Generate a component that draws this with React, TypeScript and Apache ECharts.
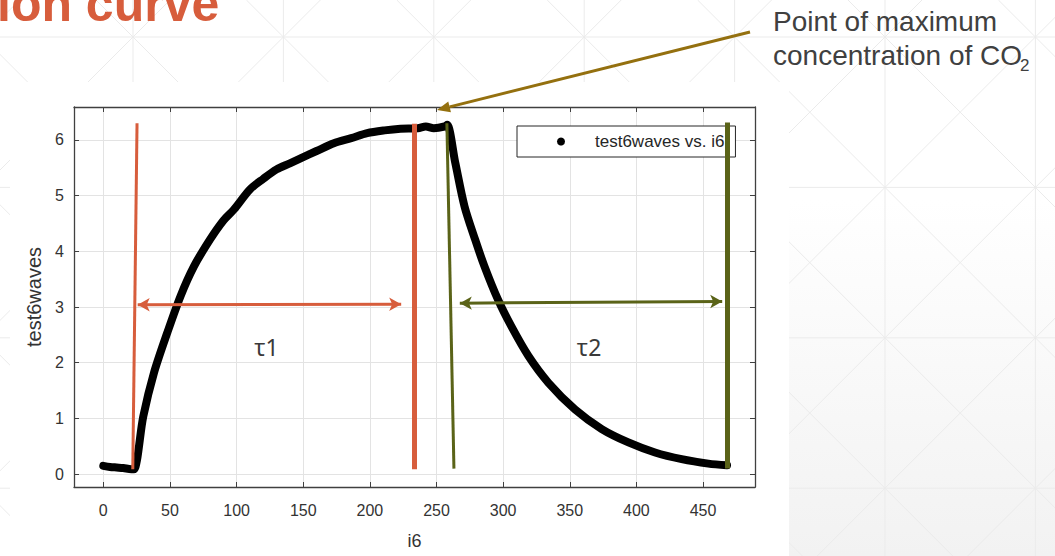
import React, { useEffect, useRef } from 'react';
import * as echarts from 'echarts';

// ---- data ----
const i6 = [0, 5, 10, 15, 21, 23, 30, 38, 48, 58, 68, 80, 90, 98, 110, 120, 130, 140, 148, 160, 173, 186, 198, 211, 223, 236, 242, 248, 256, 258, 264, 271, 279, 286, 296, 306, 319, 334, 354, 374, 394, 414, 434, 454, 468];
const test6waves = [0.15, 0.13, 0.12, 0.11, 0.09, 0.09, 1.04, 1.82, 2.54, 3.2, 3.73, 4.21, 4.55, 4.75, 5.11, 5.3, 5.47, 5.58, 5.67, 5.8, 5.94, 6.03, 6.12, 6.17, 6.2, 6.21, 6.24, 6.21, 6.24, 6.27, 5.6, 4.81, 4.21, 3.73, 3.14, 2.66, 2.12, 1.64, 1.16, 0.81, 0.57, 0.39, 0.27, 0.19, 0.16];
const seriesName = 'test6waves vs. i6';
const tauLabels = ['τ1', 'τ2'];

const ORANGE = '#D75D3C';
const OLIVE = '#5A6318';
const BROWN = '#94700F';
const FONT = '"Liberation Sans", Arial, Helvetica, sans-serif';

function buildBackground() {
  const els: any[] = [];
  const W = 1055, H = 556, step = 150.4;
  const lineStyle = { stroke: '#ebebeb', lineWidth: 1 };
  els.push({ type: 'rect', z: -20, shape: { x: 0, y: 0, width: W, height: H }, style: { fill: '#fff' } });
  els.push({
    type: 'rect', z: -19, shape: { x: 789, y: 200, width: W - 789, height: H - 200 },
    style: { fill: new echarts.graphic.LinearGradient(0, 0, 0, 1, [{ offset: 0, color: '#ffffff' }, { offset: 1, color: '#f2f2f2' }]) },
  });
  for (let k = -1; k < 8; k++) {
    const x = 133 + step * k;
    els.push({ type: 'line', z: -18, shape: { x1: x, y1: 0, x2: x, y2: H }, style: lineStyle });
  }
  for (let k = 0; k < 4; k++) {
    const y = 37 + step * k;
    els.push({ type: 'line', z: -18, shape: { x1: 0, y1: y, x2: W, y2: y }, style: lineStyle });
  }
  for (let k = -5; k < 8; k++) {
    const c = 96 + step * k;
    els.push({ type: 'line', z: -18, shape: { x1: c, y1: 0, x2: c + H, y2: H }, style: lineStyle });
  }
  for (let k = -2; k < 11; k++) {
    const c = 170 + step * k;
    els.push({ type: 'line', z: -18, shape: { x1: c, y1: 0, x2: c - H, y2: H }, style: lineStyle });
  }
  // pasted chart picture (white)
  els.push({ type: 'rect', z: -15, shape: { x: 10, y: 82, width: 779, height: 474 }, style: { fill: '#fff' } });
  return els;
}

export default function App() {
  const ref = useRef<HTMLDivElement>(null);
  useEffect(() => {
    document.body.style.margin = '0';
    const chart = echarts.init(ref.current!, null, { renderer: 'svg' });
    const data = i6.map((x, k) => [x, test6waves[k]]);

    // brown pointer arrow
    const tip = [437, 110];
    const tail = [750, 32];
    const dx = tip[0] - tail[0], dy = tip[1] - tail[1];
    const len = Math.hypot(dx, dy);
    const ux = dx / len, uy = dy / len;
    const hl = 13, hw = 5.5;
    const base = [tip[0] - ux * hl, tip[1] - uy * hl];

    const axisCommon = {
      axisLine: { show: true, onZero: false, lineStyle: { color: '#404040', width: 1.3 } },
      axisTick: { show: true, inside: true, length: 5, lineStyle: { color: '#404040', width: 1 } },
    };

    const option: any = {
      animation: false,
      grid: { left: 74, top: 107, right: 300, bottom: 69, containLabel: false },
      legend: {
        left: 517, top: 126,
        data: [{ name: seriesName, icon: 'circle' }],
        padding: [6, 11, 6, 40],
        itemWidth: 8, itemHeight: 8,
        borderColor: '#262626', borderWidth: 1, backgroundColor: '#fff',
        textStyle: { fontFamily: FONT, fontSize: 17, color: '#262626', padding: [0, 0, 0, 25], lineHeight: 19 },
        selectedMode: false,
      },
      xAxis: [
        {
          type: 'value', min: -22, max: 489, splitNumber: 10, minInterval: 50, maxInterval: 50,
          name: 'i6', nameLocation: 'middle', nameGap: 45,
          nameTextStyle: { fontFamily: FONT, fontSize: 18, color: '#333' },
          ...axisCommon,
          axisLabel: { showMinLabel: false, showMaxLabel: false, margin: 15, fontFamily: FONT, fontSize: 16, color: '#333' },
          splitLine: { show: true, lineStyle: { color: '#e3e3e3', width: 1 } },
        },
        {
          type: 'value', position: 'top', min: -22, max: 489, splitNumber: 10, minInterval: 50, maxInterval: 50,
          ...axisCommon, axisLabel: { show: false }, splitLine: { show: false },
        },
      ],
      yAxis: [
        {
          type: 'value', min: -0.23, max: 6.59, minInterval: 1, maxInterval: 1,
          name: 'test6waves', nameLocation: 'middle', nameGap: 28,
          nameTextStyle: { fontFamily: FONT, fontSize: 20, color: '#333' },
          ...axisCommon,
          axisLabel: { showMinLabel: false, showMaxLabel: false, margin: 10, fontFamily: FONT, fontSize: 16, color: '#333' },
          splitLine: { show: true, lineStyle: { color: '#e3e3e3', width: 1 } },
        },
        {
          type: 'value', position: 'right', min: -0.23, max: 6.59, minInterval: 1, maxInterval: 1,
          ...axisCommon, axisLabel: { show: false }, splitLine: { show: false },
        },
      ],
      series: [
        {
          name: seriesName, type: 'line', data, showSymbol: false, symbol: 'circle', smooth: 0.3, z: 3,
          itemStyle: { color: '#000' },
          lineStyle: { color: '#000', width: 8, join: 'round', cap: 'round' },
        },
        {
          name: 'tau1-lines', type: 'line', data: [], z: 6,
          markLine: {
            silent: true, symbol: ['none', 'none'], label: { show: false },
            lineStyle: { color: ORANGE, type: 'solid', width: 3 },
            emphasis: { disabled: true },
            data: [
              [{ coord: [25.3, 6.3], lineStyle: { width: 3, color: ORANGE, type: 'solid' } }, { coord: [22.1, 0.09] }],
              [{ coord: [233, 6.29], lineStyle: { width: 5, color: ORANGE, type: 'solid' } }, { coord: [233, 0.09] }],
            ],
          },
        },
        {
          name: 'tau2-lines', type: 'line', data: [], z: 6,
          markLine: {
            silent: true, symbol: ['none', 'none'], label: { show: false },
            lineStyle: { color: OLIVE, type: 'solid', width: 3 },
            emphasis: { disabled: true },
            data: [
              [{ coord: [257.8, 6.3], lineStyle: { width: 3, color: OLIVE, type: 'solid' } }, { coord: [263.1, 0.1] }],
              [{ coord: [468.2, 6.31], lineStyle: { width: 5, color: OLIVE, type: 'solid' } }, { coord: [468.2, 0.1] }],
            ],
          },
        },
        {
          name: 'tau-arrows', type: 'line', data: [], z: 6,
          markLine: {
            silent: true, symbol: ['arrow', 'arrow'], symbolSize: [10, 12], label: { show: false },
            lineStyle: { type: 'solid', width: 3 },
            emphasis: { disabled: true },
            data: [
              [{ coord: [25.8, 3.04], lineStyle: { color: ORANGE, width: 3, type: 'solid' }, itemStyle: { color: ORANGE } }, { coord: [223.5, 3.05], itemStyle: { color: ORANGE } }],
              [{ coord: [267.5, 3.07], lineStyle: { color: OLIVE, width: 3, type: 'solid' }, itemStyle: { color: OLIVE } }, { coord: [464.4, 3.1], itemStyle: { color: OLIVE } }],
            ],
          },
          markPoint: {
            silent: true, symbol: 'circle', symbolSize: 1, itemStyle: { color: 'rgba(0,0,0,0)' },
            label: { show: true, position: 'inside', fontFamily: '"Noto Sans", sans-serif', fontSize: 23, color: '#3a3a3a' },
            data: [
              { coord: [122.4, 2.29], value: tauLabels[0], label: { formatter: tauLabels[0] } },
              { coord: [364.5, 2.29], value: tauLabels[1], label: { formatter: tauLabels[1] } },
            ],
          },
        },
      ],
      graphic: [
        ...buildBackground(),
        {
          type: 'text', z: 10, x: -3, y: 29,
          style: { text: 'ion curve', fill: ORANGE, font: `bold 50px ${FONT}`, verticalAlign: 'bottom', align: 'left' },
        },
        {
          type: 'text', z: 10, x: 773, y: 35,
          style: { text: 'Point of maximum', fill: '#404040', font: `28px ${FONT}`, verticalAlign: 'bottom', align: 'left' },
        },
        {
          type: 'text', z: 10, x: 773, y: 69,
          style: { text: 'concentration of CO', fill: '#404040', font: `28px ${FONT}`, verticalAlign: 'bottom', align: 'left' },
        },
        {
          type: 'text', z: 10, x: 1020, y: 74,
          style: { text: '2', fill: '#404040', font: `17px ${FONT}`, verticalAlign: 'bottom', align: 'left' },
        },
        {
          type: 'line', z: 10,
          shape: { x1: tail[0], y1: tail[1], x2: base[0], y2: base[1] },
          style: { stroke: BROWN, lineWidth: 3 },
        },
        {
          type: 'polygon', z: 10,
          shape: { points: [tip, [base[0] - uy * hw, base[1] + ux * hw], [base[0] + uy * hw, base[1] - ux * hw]] },
          style: { fill: BROWN },
        },
      ],
    };
    chart.setOption(option);
    return () => chart.dispose();
  }, []);
  return <div ref={ref} style={{ width: 1055, height: 556 }} />;
}
